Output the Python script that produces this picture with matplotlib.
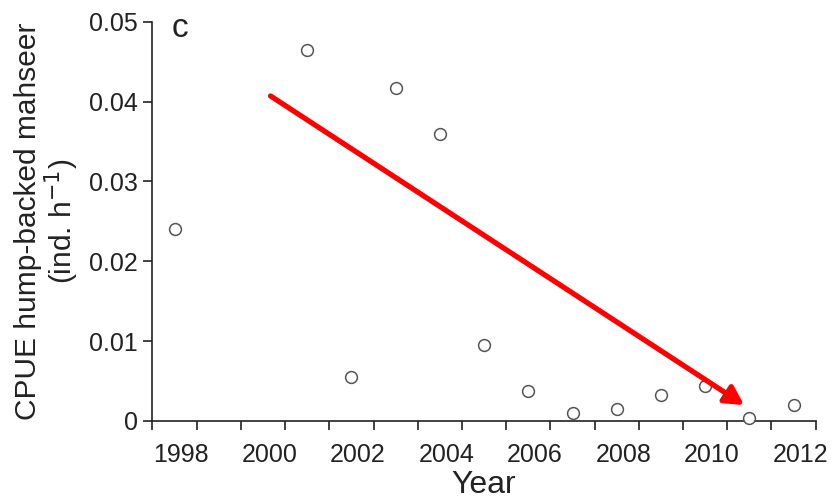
import matplotlib
matplotlib.use('Agg')
import matplotlib.pyplot as plt

# dados (CPUE por ano)
anos = [1998, 2001, 2002, 2003, 2004, 2005, 2006, 2007, 2008, 2009, 2010, 2011, 2012]
cpue = [0.0241, 0.0464, 0.0055, 0.0417, 0.0359, 0.0095, 0.0037, 0.0010,
        0.0015, 0.0033, 0.0044, 0.0004, 0.0020]
rotulos_x = [1998, 2000, 2002, 2004, 2006, 2008, 2010, 2012]
rotulos_y = [0, 0.01, 0.02, 0.03, 0.04, 0.05]
seta_inicio = (2000.67, 0.0407)
seta_fim = (2011.38, 0.0020)

plt.rcParams['font.family'] = ['Liberation Sans', 'DejaVu Sans']
cor_texto = '#222222'

fig = plt.figure(figsize=(8.35, 5.0), dpi=100)
ax = fig.add_axes([0.1826, 0.158, 0.7943, 0.7986])

# pontos no meio de cada ano
xs = [a + 0.5 for a in anos]
ax.plot(xs, cpue, 'o', markersize=8.5, markerfacecolor='white',
        markeredgecolor='#555555', markeredgewidth=1.1, clip_on=False, zorder=3)

ax.annotate('', xy=seta_fim, xytext=seta_inicio,
            arrowprops=dict(arrowstyle='-|>,head_length=1.1,head_width=0.6',
                            color='#ff0000', lw=3.8, shrinkA=0, shrinkB=0))

ax.set_xlim(1998, 2013)
ax.set_ylim(0, 0.05)
ax.spines['top'].set_visible(False)
ax.spines['right'].set_visible(False)
for s in ['left', 'bottom']:
    ax.spines[s].set_linewidth(1.2)
    ax.spines[s].set_color(cor_texto)

ax.set_xticks(range(1998, 2014))
ax.set_xticklabels([])
ax.set_xticks([r + 0.65 for r in rotulos_x], minor=True)
ax.set_xticklabels([str(r) for r in rotulos_x], minor=True)
ax.tick_params(axis='x', which='major', direction='out', length=6.5, width=1.2,
               color=cor_texto)
ax.tick_params(axis='x', which='minor', length=0, pad=16, labelsize=18,
               labelcolor=cor_texto)

ax.set_yticks(rotulos_y)
ax.set_yticklabels(['0', '0.01', '0.02', '0.03', '0.04', '0.05'])
ax.tick_params(axis='y', direction='out', length=6.5, width=1.2, pad=4,
               labelsize=18, color=cor_texto, labelcolor=cor_texto)

ax.set_xlabel('Year', fontsize=23, color=cor_texto, labelpad=2)
ax.set_ylabel('CPUE hump-backed mahseer\n(ind. h$^{\u22121}$)', fontsize=21.5,
              color=cor_texto, labelpad=6, linespacing=1.0)

ax.text(0.029, 0.962, 'c', transform=ax.transAxes, fontsize=24,
        color=cor_texto, ha='left', va='baseline')

fig.savefig('out.png', dpi=100)
